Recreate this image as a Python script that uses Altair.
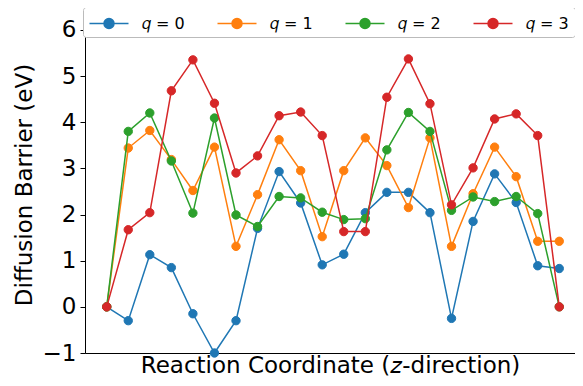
import altair as alt
import pandas as pd

series_names = ["𝑞 = 0", "𝑞 = 1", "𝑞 = 2", "𝑞 = 3"]
colors = ["#1f77b4", "#ff7f0e", "#2ca02c", "#d62728"]

q0 = [0.0, -0.30, 1.13, 0.85, -0.15, -1.0, -0.30, 1.70, 2.93, 2.25, 0.91,
      1.14, 2.04, 2.48, 2.48, 2.04, -0.25, 1.85, 2.88, 2.26, 0.89, 0.83]
q1 = [0.0, 3.44, 3.82, 3.19, 2.52, 3.46, 1.31, 2.43, 3.62, 2.95, 1.52,
      2.95, 3.66, 3.06, 2.15, 3.66, 1.31, 2.45, 3.46, 2.82, 1.42, 1.42]
q2 = [0.0, 3.80, 4.20, 3.16, 2.03, 4.09, 1.99, 1.74, 2.39, 2.36, 2.05,
      1.89, 1.91, 3.40, 4.21, 3.80, 2.09, 2.38, 2.28, 2.39, 2.02, 0.0]
q3 = [0.0, 1.67, 2.04, 4.68, 5.35, 4.41, 2.90, 3.27, 4.14, 4.22, 3.71,
      1.63, 1.63, 4.54, 5.37, 4.40, 2.21, 3.01, 4.07, 4.18, 3.71, 0.0]

y_ticks = [-1, 0, 1, 2, 3, 4, 5, 6]

rows = []
for name, vals in zip(series_names, [q0, q1, q2, q3]):
    for i, v in enumerate(vals):
        rows.append({"step": i, "barrier": v, "series": name})
df = pd.DataFrame(rows)

x_enc = alt.X("step:Q", scale=alt.Scale(domain=[-1.007, 21.73], nice=False, zero=False),
              axis=alt.Axis(title="Reaction Coordinate (𝑧-direction)", labels=False,
                            ticks=False, grid=False, domainColor="black",
                            titleFontSize=23, titleFont="DejaVu Sans",
                            titleFontWeight="normal", titleColor="black",
                            titlePadding=1))
y_enc = alt.Y("barrier:Q", scale=alt.Scale(domain=[-1, 6.3], nice=False, zero=False),
              axis=alt.Axis(title="Diffusion Barrier (eV)", values=y_ticks, grid=False,
                            domainColor="black", tickColor="black", tickSize=5,
                            labelFontSize=23, labelFont="DejaVu Sans", labelColor="black",
                            labelPadding=4,
                            labelExpr="replace(datum.label, '-', '\u2212')",
                            titleFontSize=23, titleFont="DejaVu Sans",
                            titleFontWeight="normal", titleColor="black",
                            titlePadding=6))

legend = alt.Legend(
    title=None, orient="none", legendX=-2, legendY=-9, direction="horizontal",
    columns=4, labelFontSize=16, labelFont="DejaVu Sans", labelColor="black",
    symbolType="M-1,0H0.45M1.45,0H2.9M0.45,0A0.5,0.5,0,1,1,1.45,0A0.5,0.5,0,1,1,0.45,0Z",
    symbolSize=400, symbolStrokeWidth=1.5, labelOffset=31.5, columnPadding=29,
    padding=5.5, fillColor="white", strokeColor="#bbbbbb", cornerRadius=3,
    symbolOpacity=1, labelLimit=200,
)

layers = []
for k, name in enumerate(series_names):
    base = alt.Chart(df).transform_filter(alt.datum.series == name)
    line = base.mark_line(strokeWidth=1.5, color=colors[k]).encode(x=x_enc, y=y_enc)
    pts = base.mark_point(size=70, filled=True, opacity=1, strokeWidth=1).encode(
        x=x_enc, y=y_enc,
        fill=alt.Fill("series:N", scale=alt.Scale(domain=series_names, range=colors),
                      legend=legend),
        stroke=alt.Stroke("series:N", scale=alt.Scale(domain=series_names, range=colors),
                          legend=legend))
    layers += [line, pts]

chart = alt.layer(*layers).properties(
    width=490, height=337,
    autosize="none",
    padding={"left": 77, "top": 8, "right": 0, "bottom": 25},
).configure_view(stroke="black", strokeWidth=1).configure(background="white")

chart.save("out.html", embed_options={"renderer": "svg", "actions": False})
